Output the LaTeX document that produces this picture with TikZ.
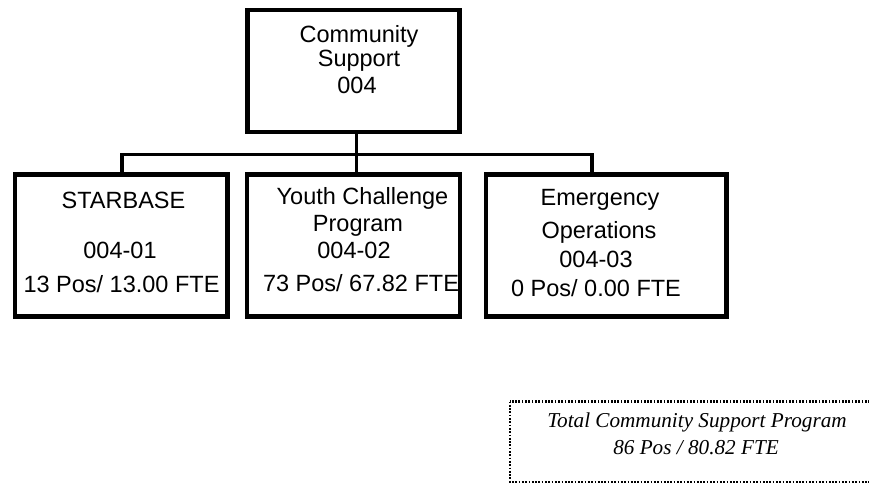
\documentclass[tikz,border=0pt]{standalone}
\usepackage{fontspec}
\setmainfont{Liberation Sans}
\newfontfamily\serifit{Liberation Serif}
\begin{document}
\begin{tikzpicture}[x=1pt,y=-1pt,
  orgbox/.style={draw=black,line width=4.5pt,inner sep=0pt,rectangle},
  conn/.style={draw=black,line width=3.5pt},
  txt/.style={anchor=base,inner sep=0pt,font=\fontsize{23.5}{26}\selectfont},
  ittxt/.style={anchor=base,inner sep=0pt,font=\serifit\itshape\fontsize{21.2}{26}\selectfont},
  totbox/.style={draw=black,line width=2.4pt,dash pattern=on 1.7pt off 1.6pt}]
\useasboundingbox (0,0) rectangle (869,485);
% texts
\node[txt] (t1) at (359,42) {Community};
\node[txt] (t2) at (359,66) {Support};
\node[txt] (t3) at (357,93) {004};
\node[txt] (a1) at (123.5,208) {STARBASE};
\node[txt] (a2) at (120,258) {004-01};
\node[txt] (a3) at (121.5,292) {13 Pos/ 13.00 FTE};
\node[txt] (c1) at (362.5,204) {Youth Challenge};
\node[txt] (c2) at (358,231) {Program};
\node[txt] (c3) at (354,258) {004-02};
\node[txt] (c4) at (361,291) {73 Pos/ 67.82 FTE};
\node[txt] (e1) at (600,205) {Emergency};
\node[txt] (e2) at (599,238) {Operations};
\node[txt] (e3) at (596,267) {004-03};
\node[txt] (e4) at (596,296) {0 Pos/ 0.00 FTE};
% boxes
\node[orgbox,minimum width=212pt,minimum height=122pt] (top) at (353.5,71) {};
\node[orgbox,minimum width=212.5pt,minimum height=142pt] (b1) at (121.25,245.5) {};
\node[orgbox,minimum width=213pt,minimum height=142pt] (b2) at (353.5,245.5) {};
\node[orgbox,minimum width=240.5pt,minimum height=142pt] (b3) at (606.25,245.5) {};
% connectors
\coordinate (busy) at (0,154.5);
\draw[conn] ([xshift=3pt]top.south) -- ([xshift=3pt]b2.north);
\draw[conn] ([xshift=0.75pt]b1.north) -- ([xshift=0.75pt]b1.north |- busy) -- ([xshift=-14.25pt]b3.north |- busy) -- ([xshift=-14.25pt]b3.north);
% total box
\draw[totbox] (510,401.5) rectangle (885,482);
\node[ittxt] (s1) at (697,427.5) {Total Community Support Program};
\node[ittxt] (s2) at (696,454) {86 Pos / 80.82 FTE};
\end{tikzpicture}
\end{document}
